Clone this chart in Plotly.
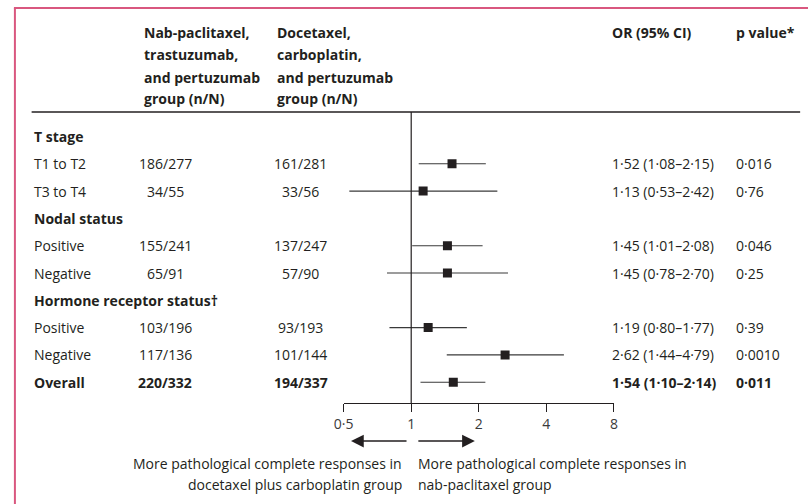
import plotly.graph_objects as go
import math

# ---------------- data ----------------
row_labels = ["T stage", "T1 to T2", "T3 to T4", "Nodal status", "Positive", "Negative",
              "Hormone receptor status†", "Positive", "Negative", "Overall"]
row_bold = [True, False, False, True, False, False, True, False, False, True]
nab_counts = [None, "186/277", "34/55", None, "155/241", "65/91", None, "103/196", "117/136", "220/332"]
doc_counts = [None, "161/281", "33/56", None, "137/247", "57/90", None, "93/193", "101/144", "194/337"]
or_values = [None, 1.52, 1.13, None, 1.45, 1.45, None, 1.19, 2.62, 1.54]
ci_low = [None, 1.08, 0.53, None, 1.01, 0.78, None, 0.80, 1.44, 1.10]
ci_high = [None, 2.15, 2.42, None, 2.08, 2.70, None, 1.77, 4.79, 2.14]
p_values = [None, "0·016", "0·76", None, "0·046", "0·25", None, "0·39", "0·0010", "0·011"]

header_nab = ["Nab-paclitaxel,", "trastuzumab,", "and pertuzumab", "group (n/N)"]
header_doc = ["Docetaxel,", "carboplatin,", "and pertuzumab", "group (n/N)"]
header_or = "OR (95% CI)"
header_p = "p value*"

tick_values = [0.5, 1, 2, 4, 8]
tick_labels = ["0·5", "1", "2", "4", "8"]

footer_left = ["More pathological complete responses in", "docetaxel plus carboplatin group"]
footer_right = ["More pathological complete responses in", "nab-paclitaxel group"]

# ---------------- styling ----------------
W, H = 812, 504
FONT = "Open Sans"
FS = 14
INK = "#231f20"
PINK = "#d9577f"

def px(x):
    return x / W

def py(y):
    return (H - y) / H

def fmt(v):
    return f"{v:.2f}".replace(".", "·")

fig = go.Figure()

# CI lines
lx, ly = [], []
for i, (lo, hi) in enumerate(zip(ci_low, ci_high)):
    if lo is None:
        continue
    lx += [lo, hi, None]
    ly += [i, i, None]
fig.add_trace(go.Scatter(x=lx, y=ly, mode="lines", line=dict(color="#3a3a3a", width=1.1),
                         hoverinfo="skip", showlegend=False))

# point estimates
mx = [v for v in or_values if v is not None]
my = [i for i, v in enumerate(or_values) if v is not None]
fig.add_trace(go.Scatter(x=mx, y=my, mode="markers",
                         marker=dict(symbol="square", size=9, color=INK, line=dict(width=0)),
                         showlegend=False))

annotations = []

def txt(text, x, y, xanchor="left", bold=False, yref="paper", size=FS):
    t = f"<b>{text}</b>" if bold else text
    annotations.append(dict(text=t, x=x, y=y, xref="paper", yref=yref, xanchor=xanchor,
                            yanchor="middle", showarrow=False,
                            font=dict(family=FONT, size=size, color=INK)))

# headers
header_y = [33, 55, 77, 99]
for line_nab, line_doc, yy in zip(header_nab, header_doc, header_y):
    txt(line_nab, px(134), py(yy), bold=True)
    txt(line_doc, px(270), py(yy), bold=True)
txt(header_or, px(611), py(33), bold=True)
txt(header_p, px(737), py(33), bold=True)

# rows
for i in range(len(row_labels)):
    b = row_bold[i]
    txt(row_labels[i], px(22), i, bold=b, yref="y")
    if nab_counts[i]:
        txt(nab_counts[i], px(158), i, xanchor="center", bold=b, yref="y")
    if doc_counts[i]:
        txt(doc_counts[i], px(296), i, xanchor="center", bold=b, yref="y")
    if or_values[i] is not None:
        s = f"{fmt(or_values[i])} ({fmt(ci_low[i])}–{fmt(ci_high[i])})"
        txt(s, px(611), i, bold=b, yref="y")
        txt(p_values[i], px(737), i, bold=b, yref="y")

# footers
for line, yy in zip(footer_left, [463, 484]):
    txt(line, px(401), py(yy), xanchor="right")
for line, yy in zip(footer_right, [463, 484]):
    txt(line, px(413), py(yy), xanchor="left")

# arrows
annotations.append(dict(x=px(347), y=py(441), xref="paper", yref="paper", ax=57, ay=0,
                        showarrow=True, arrowhead=2, arrowsize=1.7, arrowwidth=1.5,
                        arrowcolor=INK, text=""))
annotations.append(dict(x=px(473), y=py(441), xref="paper", yref="paper", ax=-58, ay=0,
                        showarrow=True, arrowhead=2, arrowsize=1.7, arrowwidth=1.5,
                        arrowcolor=INK, text=""))

shapes = [
    # pink frame
    dict(type="line", xref="paper", yref="paper", x0=px(4), x1=1.0, y0=py(8), y1=py(8),
         line=dict(color=PINK, width=2)),
    dict(type="line", xref="paper", yref="paper", x0=px(5), x1=px(5), y0=py(8), y1=0,
         line=dict(color=PINK, width=2)),
    # header rule
    dict(type="line", xref="paper", yref="paper", x0=px(22), x1=px(804), y0=py(112), y1=py(112),
         line=dict(color=INK, width=1.3)),
    # line of no effect
    dict(type="line", xref="x", yref="y domain", x0=1, x1=1, y0=0, y1=1,
         line=dict(color=INK, width=1.2)),
]

# axis geometry
x_left_px, x_right_px = 339.5, 614.5
y_top_px, y_bot_px = 112, 403
row0_px, row_step = 136.5, 27.3
y_range_top = (y_top_px - row0_px) / row_step
y_range_bot = (y_bot_px - row0_px) / row_step

fig.update_layout(
    width=W, height=H,
    margin=dict(l=0, r=0, t=0, b=0),
    paper_bgcolor="white", plot_bgcolor="white",
    font=dict(family=FONT, size=FS, color=INK),
    showlegend=False,
    annotations=annotations,
    shapes=shapes,
    xaxis=dict(type="log", domain=[px(x_left_px), px(x_right_px)],
               range=[math.log10(0.5), math.log10(8)],
               tickvals=tick_values, ticktext=tick_labels,
               ticks="outside", ticklen=8, tickwidth=1.2, tickcolor=INK,
               showline=True, linecolor=INK, linewidth=1.2,
               showgrid=False, zeroline=False,
               tickfont=dict(family=FONT, size=14, color="#3a3a3a"),
               fixedrange=True),
    yaxis=dict(domain=[py(y_bot_px), py(y_top_px)],
               range=[y_range_bot, y_range_top],
               visible=False, showgrid=False, zeroline=False, fixedrange=True),
)

fig.write_html(
    "out.html",
    config={"displayModeBar": False},
    post_script="document.body.style.margin='0';document.body.style.overflow='hidden';",
)
